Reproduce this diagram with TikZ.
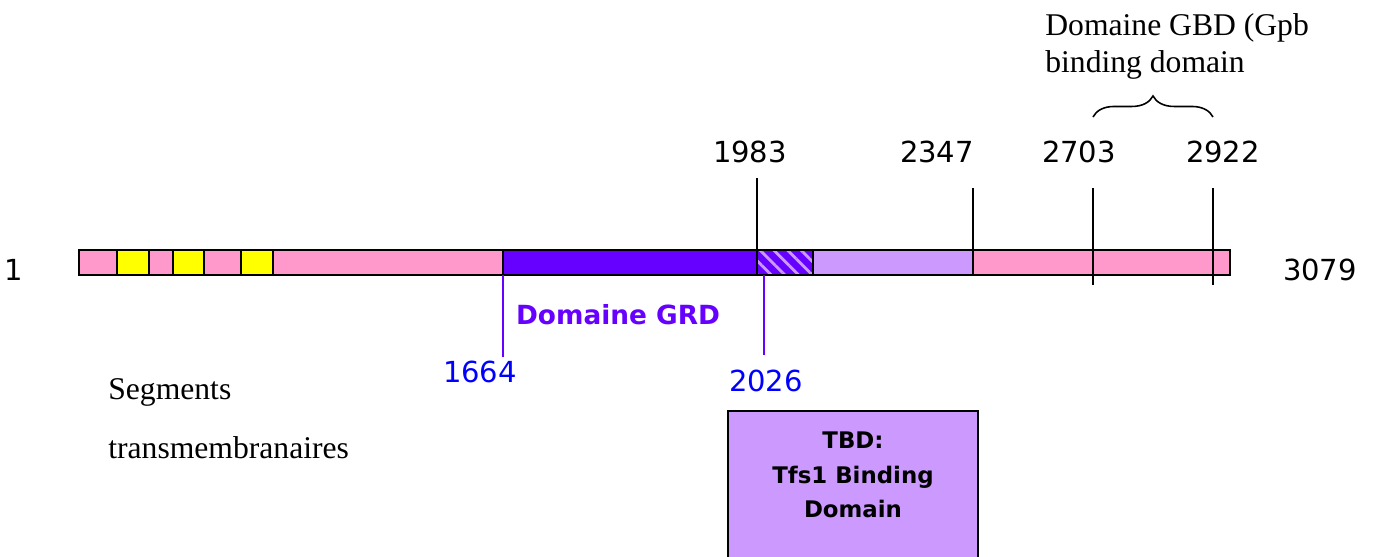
\documentclass[tikz,border=0pt]{standalone}
\usepackage{fontspec}
\setmainfont{Liberation Serif}
\newfontfamily\comic{DejaVu Sans}
\usepackage{tikz}
\usetikzlibrary{patterns.meta,decorations.pathreplacing}
\definecolor{protpink}{RGB}{255,153,204}
\definecolor{tmyellow}{RGB}{255,255,0}
\definecolor{grdviolet}{RGB}{102,0,255}
\definecolor{tbdlilac}{RGB}{204,153,255}
\definecolor{posblue}{RGB}{0,0,255}

\begin{document}
\begin{tikzpicture}[
  x=0.02cm,y=-0.02cm,
  seg/.style={draw,line width=1.2pt},
  num/.style={font=\comic\fontsize{16.5}{19}\selectfont,inner sep=0pt},
  bluenum/.style={num,text=posblue},
  tick/.style={line width=1pt},
  thintick/.style={line width=0.6pt},
  violettick/.style={line width=1pt,draw=grdviolet},
  serif/.style={font=\fontsize{18}{21}\selectfont,align=left,inner sep=0pt}
]
\useasboundingbox (0,0) rectangle (1373,556);
% la chaine
\draw[seg,fill=protpink] (79,250) rectangle (503,275);
\draw[seg,fill=tmyellow] (117,250) rectangle (149,275);
\draw[seg,fill=tmyellow] (173,250) rectangle (204,275);
\draw[seg,fill=tmyellow] (241,250) rectangle (273,275);
\draw[seg,fill=grdviolet] (503,250) rectangle (757,275);
\fill[grdviolet] (757,250) rectangle (813,275);
\fill[pattern={Lines[angle=-45,distance=5.5pt,line width=1.6pt]},pattern color=tbdlilac] (757,250) rectangle (813,275);
\draw[seg] (757,250) rectangle (813,275);
\draw[seg,fill=tbdlilac] (813,250) rectangle (973,275);
\draw[seg,fill=protpink] (973,250) rectangle (1230,275);

\node[num] (n1) at (14,270) {1};
\node[num] (n3079) at (1320,270) {3079};
\node[num] (n1983) at (750,152) {1983};
\node[num] (n2347) at (937,152) {2347};
\node[num] (n2703) at (1079,152) {2703};
\node[num] (n2922) at (1223,152) {2922};
\node[bluenum] (n1664) at (480,372) {1664};
\node[bluenum] (n2026) at (766,381) {2026};

\coordinate (a1983) at (757,178);
\coordinate (b1983) at (757,250);
\coordinate (a2347) at (973,188);
\coordinate (b2347) at (973,250);
\coordinate (a2703) at (1093,188);
\coordinate (b2703) at (1093,285);
\coordinate (a2922) at (1213,188);
\coordinate (b2922) at (1213,285);
\coordinate (a1664) at (503,275);
\coordinate (b1664) at (503,357);
\coordinate (a2026) at (764,275);
\coordinate (b2026) at (764,355);
\draw[tick] (a1983)--(b1983);
\draw[tick] (a2347)--(b2347);
\draw[thintick] (a2703)--(b2703);
\draw[thintick] (a2922)--(b2922);
\draw[violettick] (a1664)--(b1664);
\draw[violettick] (a2026)--(b2026);

\node[font=\comic\bfseries\fontsize{15}{18}\selectfont,text=grdviolet,inner sep=0pt] (grd) at (618,315) {Domaine GRD};

\coordinate (gbdl) at (1093,117);
\coordinate (gbdr) at (1213,117);
\draw[line width=0.9pt,decorate,decoration={brace,amplitude=12pt}] (gbdl)--(gbdr);
\node[serif,anchor=west,font=\fontsize{18}{21}\selectfont] (gbd) at (1045,46) {Domaine GBD (Gpb\\binding domain};

\node[serif,anchor=west] (seg1) at (108,392) {Segments};
\node[serif,anchor=west] (seg2) at (108,448) {transmembranaires};

\draw[line width=1pt,fill=tbdlilac] (728,411) rectangle (978,560);
\node[font=\comic\bfseries\fontsize{13}{19.8}\selectfont,align=center,inner sep=0pt] (tbd) at (853,475) {TBD:\\Tfs1 Binding\\Domain};
\end{tikzpicture}
\end{document}
